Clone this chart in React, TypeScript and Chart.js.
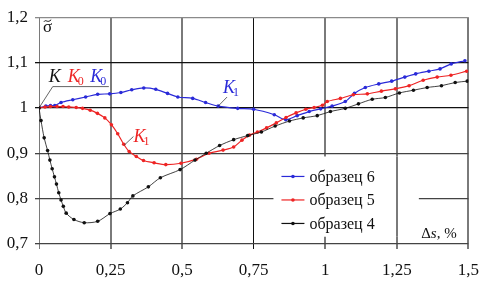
import React, { useEffect, useRef } from 'react';
import { Chart, registerables } from 'chart.js';
Chart.register(...registerables);

const xTicks = [0, 0.25, 0.5, 0.75, 1, 1.25, 1.5];
const yTicks = [0.7, 0.8, 0.9, 1.0, 1.1, 1.2];

const seriesLabels = ['образец 6', 'образец 5', 'образец 4'];
const seriesColors = ['#2a2ad8', '#ee2424', '#111111'];

const blueX = [0, 0.024, 0.04, 0.055, 0.077, 0.118, 0.163, 0.205, 0.247, 0.286, 0.324, 0.366, 0.408, 0.449, 0.485, 0.537, 0.582, 0.626, 0.694, 0.75, 0.822, 0.862, 0.902, 0.944, 0.984, 1.024, 1.07, 1.102, 1.14, 1.187, 1.232, 1.278, 1.316, 1.362, 1.401, 1.44, 1.488];
const blueY = [1.0, 1.004, 1.005, 1.005, 1.012, 1.018, 1.024, 1.03, 1.031, 1.034, 1.04, 1.044, 1.041, 1.032, 1.024, 1.021, 1.012, 1.004, 0.999, 0.997, 0.985, 0.974, 0.983, 0.992, 0.998, 1.004, 1.014, 1.032, 1.045, 1.053, 1.059, 1.068, 1.075, 1.081, 1.086, 1.097, 1.104];

const redX = [0, 0.021, 0.04, 0.063, 0.084, 0.104, 0.13, 0.152, 0.179, 0.204, 0.23, 0.253, 0.275, 0.296, 0.315, 0.34, 0.365, 0.402, 0.443, 0.496, 0.55, 0.594, 0.643, 0.68, 0.709, 0.735, 0.763, 0.795, 0.829, 0.863, 0.898, 0.932, 0.961, 0.99, 1.007, 1.053, 1.098, 1.147, 1.196, 1.245, 1.293, 1.342, 1.391, 1.439, 1.494];
const redY = [1.0, 1.002, 1.003, 1.003, 1.003, 1.002, 1.001, 0.999, 0.995, 0.988, 0.978, 0.963, 0.943, 0.92, 0.904, 0.893, 0.884, 0.879, 0.875, 0.878, 0.887, 0.9, 0.907, 0.914, 0.929, 0.94, 0.947, 0.956, 0.967, 0.979, 0.989, 0.997, 1.001, 1.006, 1.014, 1.021, 1.029, 1.031, 1.037, 1.042, 1.049, 1.061, 1.068, 1.072, 1.081];

const blackX = [0, 0.007, 0.018, 0.03, 0.038, 0.046, 0.054, 0.061, 0.069, 0.077, 0.085, 0.095, 0.122, 0.158, 0.205, 0.248, 0.284, 0.309, 0.328, 0.382, 0.424, 0.493, 0.545, 0.584, 0.631, 0.68, 0.729, 0.777, 0.825, 0.875, 0.923, 0.972, 1.018, 1.07, 1.116, 1.164, 1.21, 1.259, 1.308, 1.356, 1.406, 1.454, 1.496];
const blackY = [1.0, 0.972, 0.934, 0.906, 0.885, 0.866, 0.848, 0.832, 0.813, 0.797, 0.783, 0.768, 0.754, 0.747, 0.75, 0.767, 0.777, 0.791, 0.806, 0.826, 0.846, 0.864, 0.885, 0.9, 0.917, 0.93, 0.939, 0.947, 0.96, 0.971, 0.978, 0.983, 0.992, 0.999, 1.009, 1.019, 1.023, 1.033, 1.039, 1.045, 1.049, 1.056, 1.059];

const fmt = (v: number) => String(Math.round(v * 100) / 100).replace('.', ',');
const SERIF = '"Liberation Serif", "Times New Roman", "DejaVu Serif", serif';

function pts(xs: number[], ys: number[]) {
  return xs.map((x, i) => ({ x, y: ys[i] }));
}

const App = () => {
  const ref = useRef<HTMLCanvasElement>(null);
  useEffect(() => {
    if (!ref.current) return;

    const legendPlugin = {
      id: 'boxLegend',
      beforeDatasetsDraw(chart: any) {
        const { ctx } = chart;
        const xs = chart.scales.x;
        const ys = chart.scales.y;
        const l = xs.getPixelForValue(0.819);
        const r = xs.getPixelForValue(1.327);
        const t = ys.getPixelForValue(0.893);
        const b = ys.getPixelForValue(0.716);
        ctx.save();
        ctx.fillStyle = '#ffffff';
        ctx.fillRect(l, t, r - l, b - t);
        const gx = Math.round(xs.getPixelForValue(1.25));
        ctx.strokeStyle = '#7a7a7a';
        ctx.lineWidth = 2;
        ctx.beginPath();
        ctx.moveTo(gx, t);
        ctx.lineTo(gx, b);
        ctx.stroke();
        ctx.restore();
      },
      afterDatasetsDraw(chart: any) {
        const { ctx } = chart;
        const xs = chart.scales.x;
        const ys = chart.scales.y;
        const l = xs.getPixelForValue(0.819);
        const t = ys.getPixelForValue(0.893);
        ctx.save();
        ctx.font = `16px ${SERIF}`;
        ctx.textBaseline = 'middle';
        seriesLabels.forEach((lab, i) => {
          const y = t + 20 + i * 23.5;
          const x0 = l + 8;
          const x1 = l + 31;
          ctx.strokeStyle = seriesColors[i];
          ctx.lineWidth = 1.2;
          ctx.beginPath();
          ctx.moveTo(x0, y);
          ctx.lineTo(x1, y);
          ctx.stroke();
          ctx.fillStyle = seriesColors[i];
          ctx.beginPath();
          ctx.arc((x0 + x1) / 2, y, 1.8, 0, Math.PI * 2);
          ctx.fill();
          ctx.fillStyle = '#111';
          ctx.fillText(lab, x1 + 5, y + 1);
        });
        ctx.restore();
      },
    };

    const annotPlugin = {
      id: 'annots',
      afterDatasetsDraw(chart: any) {
        const { ctx } = chart;
        const xs = chart.scales.x;
        const ys = chart.scales.y;
        const X = (v: number) => xs.getPixelForValue(v);
        const Y = (v: number) => ys.getPixelForValue(v);
        ctx.save();
        ctx.textBaseline = 'alphabetic';
        ctx.textAlign = 'left';
        const kSub = (x: number, y: number, sub: string, color: string) => {
          ctx.fillStyle = color;
          ctx.font = `italic 18px ${SERIF}`;
          ctx.fillText('K', x, y);
          const w = ctx.measureText('K').width;
          if (sub) {
            ctx.font = `12px ${SERIF}`;
            ctx.fillText(sub, x + w - 2, y + 3);
          }
        };
        const line = (p: number[][]) => {
          ctx.strokeStyle = '#222';
          ctx.lineWidth = 0.7;
          ctx.beginPath();
          p.forEach((q, i) => (i ? ctx.lineTo(q[0], q[1]) : ctx.moveTo(q[0], q[1])));
          ctx.stroke();
        };
        line([[X(0), Y(1.0)], [X(0.048), Y(1.047)], [X(0.244), Y(1.047)]]);
        kSub(X(0.034), Y(1.058), '', '#111');
        kSub(X(0.1), Y(1.058), '0', '#ee2424');
        kSub(X(0.179), Y(1.058), '0', '#2a2ad8');
        line([[X(0.626), Y(1.004)], [X(0.657), Y(1.024)]]);
        kSub(X(0.643), Y(1.032), '1', '#2a2ad8');
        line([[X(0.298), Y(0.918)], [X(0.33), Y(0.937)]]);
        kSub(X(0.33), Y(0.924), '1', '#ee2424');
        // sigma with tilde
        const sx = X(0.014);
        const sy = Y(1.168);
        ctx.fillStyle = '#111';
        ctx.font = `17px ${SERIF}`;
        ctx.fillText('σ', sx, sy);
        const sw = ctx.measureText('σ').width;
        const ty = sy - 11;
        ctx.strokeStyle = '#111';
        ctx.lineWidth = 1;
        ctx.beginPath();
        ctx.moveTo(sx + 1, ty + 1);
        ctx.bezierCurveTo(sx + sw * 0.3, ty - 2, sx + sw * 0.5, ty + 3, sx + sw - 1, ty - 1);
        ctx.stroke();
        // delta s, %
        let px = X(1.335);
        const py = Y(0.714);
        ctx.font = `15px ${SERIF}`;
        ctx.fillText('Δ', px, py);
        px += ctx.measureText('Δ').width;
        ctx.font = `italic 15px ${SERIF}`;
        ctx.fillText('s', px, py);
        px += ctx.measureText('s').width;
        ctx.font = `15px ${SERIF}`;
        ctx.fillText(', %', px, py);
        ctx.restore();
      },
    };

    const mk = (label: string, color: string, data: any, width: number) => ({
      label,
      data,
      borderColor: color,
      backgroundColor: color,
      borderWidth: width,
      pointRadius: 1.8,
      pointBorderWidth: 0,
      pointBackgroundColor: color,
      tension: 0.3,
      fill: false,
    });

    const xGridColor = (c: any) => {
      const v = c.tick && c.tick.value;
      if (Math.abs(v - 0.75) < 1e-6) return '#111';
      return '#7a7a7a';
    };
    const xGridWidth = (c: any) => {
      const v = c.tick && c.tick.value;
      if (Math.abs(v - 0.75) < 1e-6 || Math.abs(v) < 1e-6) return 1;
      return 2;
    };
    const yGridColor = (c: any) => {
      const v = c.tick && c.tick.value;
      if (Math.abs(v - 1.2) < 1e-6) return '#8a8a8a';
      if (Math.abs(v - 1.1) < 1e-6 || Math.abs(v - 1.0) < 1e-6) return '#111';
      return '#444';
    };

    const chart = new Chart(ref.current, {
      type: 'line',
      data: {
        datasets: [
          mk(seriesLabels[2], seriesColors[2], pts(blackX, blackY), 0.8),
          mk(seriesLabels[1], seriesColors[1], pts(redX, redY), 1.2),
          mk(seriesLabels[0], seriesColors[0], pts(blueX, blueY), 1.2),
        ],
      },
      options: {
        animation: false,
        responsive: false,
        layout: { padding: { top: 12, right: 15, left: 0, bottom: 0 } },
        plugins: { legend: { display: false }, tooltip: { enabled: false } },
        scales: {
          x: {
            type: 'linear',
            min: 0,
            max: 1.5,
            afterBuildTicks: (s: any) => {
              s.ticks = xTicks.map((v) => ({ value: v }));
            },
            afterFit: (s: any) => {
              s.height = 40;
            },
            ticks: {
              callback: (v: any) => fmt(Number(v)),
              font: { family: SERIF, size: 17 },
              color: '#111',
              padding: 11,
              maxRotation: 0,
              autoSkip: false,
            },
            grid: { color: xGridColor, lineWidth: xGridWidth, tickLength: 5, drawTicks: true },
            border: { display: false },
          },
          y: {
            type: 'linear',
            min: 0.7,
            max: 1.2,
            afterBuildTicks: (s: any) => {
              s.ticks = yTicks.map((v) => ({ value: v }));
            },
            afterFit: (s: any) => {
              s.width = 39;
            },
            ticks: {
              callback: (v: any) => fmt(Number(v)),
              font: { family: SERIF, size: 17 },
              color: '#111',
              padding: 7,
              autoSkip: false,
            },
            grid: { color: yGridColor, lineWidth: 1.3, tickLength: 4, drawTicks: true },
            border: { display: false },
          },
        },
      },
      plugins: [legendPlugin, annotPlugin],
    } as any);
    return () => chart.destroy();
  }, []);

  return (
    <div style={{ position: 'fixed', left: 0, top: 0, width: 490, height: 284, background: '#fff' }}>
      <canvas ref={ref} width={490} height={284} style={{ width: 490, height: 284 }} />
    </div>
  );
};

export default App;
